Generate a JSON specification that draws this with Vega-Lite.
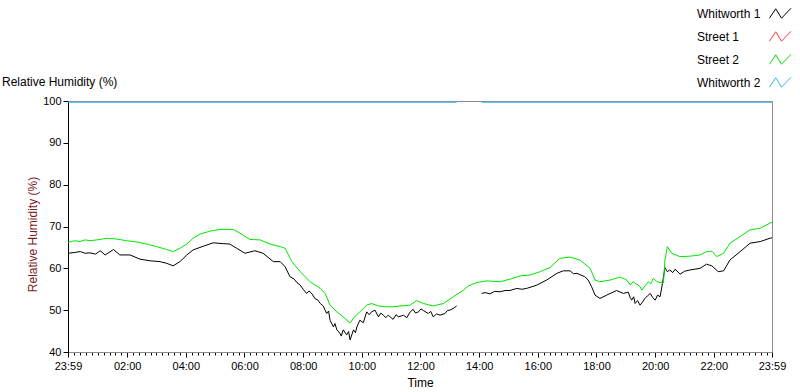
{
  "$schema": "https://vega.github.io/schema/vega-lite/v6.json",
  "autosize": {"type": "none"},
  "width": 704,
  "height": 251,
  "padding": {"left": 68, "top": 101, "right": 28, "bottom": 40},
  "background": "white",
  "title": {"text": "Relative Humidity (%)", "anchor": "start", "frame": "group", "dx": -66, "offset": -95, "fontSize": 12, "font": "Liberation Sans", "fontWeight": "normal", "color": "black", "baseline": "alphabetic"},
  "config": {
    "view": {"stroke": "#8c8c8c", "strokeWidth": 1},
    "axis": {"grid": false, "labelFont": "Liberation Sans", "labelFontSize": 11, "labelColor": "black", "titleFont": "Liberation Sans", "titleFontSize": 12, "titleFontWeight": "normal", "tickColor": "black"}
  },
  "datasets": {
    "rh": [
      {"s": "Whitworth 1", "t": -1, "v": 63.6}, {"s": "Whitworth 1", "t": 13, "v": 63.8}, {"s": "Whitworth 1", "t": 24, "v": 64.0}, {"s": "Whitworth 1", "t": 34, "v": 63.6}, {"s": "Whitworth 1", "t": 44, "v": 63.7}, {"s": "Whitworth 1", "t": 55, "v": 63.4}, {"s": "Whitworth 1", "t": 65, "v": 64.2}, {"s": "Whitworth 1", "t": 75, "v": 63.2}, {"s": "Whitworth 1", "t": 92, "v": 64.5}, {"s": "Whitworth 1", "t": 105, "v": 63.2}, {"s": "Whitworth 1", "t": 126, "v": 63.2}, {"s": "Whitworth 1", "t": 146, "v": 62.2}, {"s": "Whitworth 1", "t": 167, "v": 61.8}, {"s": "Whitworth 1", "t": 187, "v": 61.6}, {"s": "Whitworth 1", "t": 201, "v": 61.2}, {"s": "Whitworth 1", "t": 214, "v": 60.6}, {"s": "Whitworth 1", "t": 228, "v": 61.6}, {"s": "Whitworth 1", "t": 242, "v": 63.2}, {"s": "Whitworth 1", "t": 255, "v": 64.4}, {"s": "Whitworth 1", "t": 276, "v": 65.3}, {"s": "Whitworth 1", "t": 296, "v": 66.1}, {"s": "Whitworth 1", "t": 317, "v": 65.9}, {"s": "Whitworth 1", "t": 330, "v": 65.8}, {"s": "Whitworth 1", "t": 344, "v": 64.8}, {"s": "Whitworth 1", "t": 361, "v": 63.6}, {"s": "Whitworth 1", "t": 381, "v": 64.2}, {"s": "Whitworth 1", "t": 398, "v": 63.6}, {"s": "Whitworth 1", "t": 419, "v": 61.6}, {"s": "Whitworth 1", "t": 433, "v": 61.6}, {"s": "Whitworth 1", "t": 443, "v": 60.4}, {"s": "Whitworth 1", "t": 453, "v": 58.0}, {"s": "Whitworth 1", "t": 462, "v": 57.4}, {"s": "Whitworth 1", "t": 467, "v": 56.6}, {"s": "Whitworth 1", "t": 474, "v": 56.0}, {"s": "Whitworth 1", "t": 480, "v": 55.0}, {"s": "Whitworth 1", "t": 487, "v": 54.0}, {"s": "Whitworth 1", "t": 492, "v": 54.6}, {"s": "Whitworth 1", "t": 498, "v": 53.9}, {"s": "Whitworth 1", "t": 504, "v": 52.8}, {"s": "Whitworth 1", "t": 510, "v": 52.4}, {"s": "Whitworth 1", "t": 515, "v": 51.6}, {"s": "Whitworth 1", "t": 521, "v": 51.0}, {"s": "Whitworth 1", "t": 528, "v": 49.2}, {"s": "Whitworth 1", "t": 532, "v": 49.8}, {"s": "Whitworth 1", "t": 535, "v": 47.6}, {"s": "Whitworth 1", "t": 542, "v": 46.0}, {"s": "Whitworth 1", "t": 545, "v": 46.8}, {"s": "Whitworth 1", "t": 549, "v": 45.3}, {"s": "Whitworth 1", "t": 555, "v": 44.5}, {"s": "Whitworth 1", "t": 558, "v": 43.8}, {"s": "Whitworth 1", "t": 562, "v": 45.3}, {"s": "Whitworth 1", "t": 569, "v": 44.1}, {"s": "Whitworth 1", "t": 573, "v": 44.9}, {"s": "Whitworth 1", "t": 576, "v": 42.9}, {"s": "Whitworth 1", "t": 583, "v": 45.3}, {"s": "Whitworth 1", "t": 587, "v": 44.6}, {"s": "Whitworth 1", "t": 590, "v": 46.0}, {"s": "Whitworth 1", "t": 596, "v": 47.6}, {"s": "Whitworth 1", "t": 603, "v": 47.0}, {"s": "Whitworth 1", "t": 610, "v": 49.6}, {"s": "Whitworth 1", "t": 615, "v": 48.9}, {"s": "Whitworth 1", "t": 620, "v": 49.6}, {"s": "Whitworth 1", "t": 627, "v": 50.0}, {"s": "Whitworth 1", "t": 634, "v": 48.4}, {"s": "Whitworth 1", "t": 639, "v": 49.3}, {"s": "Whitworth 1", "t": 644, "v": 48.8}, {"s": "Whitworth 1", "t": 649, "v": 48.2}, {"s": "Whitworth 1", "t": 654, "v": 48.8}, {"s": "Whitworth 1", "t": 659, "v": 48.3}, {"s": "Whitworth 1", "t": 664, "v": 47.8}, {"s": "Whitworth 1", "t": 670, "v": 48.9}, {"s": "Whitworth 1", "t": 675, "v": 48.4}, {"s": "Whitworth 1", "t": 685, "v": 48.8}, {"s": "Whitworth 1", "t": 692, "v": 48.2}, {"s": "Whitworth 1", "t": 699, "v": 49.6}, {"s": "Whitworth 1", "t": 705, "v": 50.2}, {"s": "Whitworth 1", "t": 710, "v": 49.3}, {"s": "Whitworth 1", "t": 716, "v": 49.6}, {"s": "Whitworth 1", "t": 721, "v": 50.3}, {"s": "Whitworth 1", "t": 726, "v": 49.9}, {"s": "Whitworth 1", "t": 736, "v": 49.2}, {"s": "Whitworth 1", "t": 741, "v": 49.7}, {"s": "Whitworth 1", "t": 746, "v": 48.4}, {"s": "Whitworth 1", "t": 753, "v": 49.1}, {"s": "Whitworth 1", "t": 760, "v": 48.8}, {"s": "Whitworth 1", "t": 770, "v": 49.2}, {"s": "Whitworth 1", "t": 775, "v": 49.9}, {"s": "Whitworth 1", "t": 780, "v": 50.0}, {"s": "Whitworth 1", "t": 787, "v": 50.4}, {"s": "Whitworth 1", "t": 794, "v": 51.0}, {"s": "Whitworth 1", "t": 820, "v": null}, {"s": "Whitworth 1", "t": 845, "v": 54.0}, {"s": "Whitworth 1", "t": 852, "v": 54.2}, {"s": "Whitworth 1", "t": 862, "v": 53.9}, {"s": "Whitworth 1", "t": 872, "v": 54.5}, {"s": "Whitworth 1", "t": 883, "v": 54.4}, {"s": "Whitworth 1", "t": 893, "v": 54.7}, {"s": "Whitworth 1", "t": 903, "v": 54.7}, {"s": "Whitworth 1", "t": 917, "v": 55.2}, {"s": "Whitworth 1", "t": 927, "v": 55.0}, {"s": "Whitworth 1", "t": 937, "v": 55.2}, {"s": "Whitworth 1", "t": 948, "v": 55.6}, {"s": "Whitworth 1", "t": 958, "v": 56.0}, {"s": "Whitworth 1", "t": 978, "v": 57.2}, {"s": "Whitworth 1", "t": 999, "v": 58.8}, {"s": "Whitworth 1", "t": 1012, "v": 59.4}, {"s": "Whitworth 1", "t": 1026, "v": 59.4}, {"s": "Whitworth 1", "t": 1033, "v": 58.7}, {"s": "Whitworth 1", "t": 1040, "v": 58.8}, {"s": "Whitworth 1", "t": 1056, "v": 58.0}, {"s": "Whitworth 1", "t": 1063, "v": 57.2}, {"s": "Whitworth 1", "t": 1070, "v": 55.6}, {"s": "Whitworth 1", "t": 1077, "v": 53.6}, {"s": "Whitworth 1", "t": 1087, "v": 52.8}, {"s": "Whitworth 1", "t": 1101, "v": 53.6}, {"s": "Whitworth 1", "t": 1121, "v": 54.7}, {"s": "Whitworth 1", "t": 1135, "v": 54.0}, {"s": "Whitworth 1", "t": 1145, "v": 54.3}, {"s": "Whitworth 1", "t": 1149, "v": 53.0}, {"s": "Whitworth 1", "t": 1152, "v": 52.4}, {"s": "Whitworth 1", "t": 1156, "v": 53.2}, {"s": "Whitworth 1", "t": 1159, "v": 51.6}, {"s": "Whitworth 1", "t": 1164, "v": 52.3}, {"s": "Whitworth 1", "t": 1169, "v": 51.2}, {"s": "Whitworth 1", "t": 1174, "v": 51.9}, {"s": "Whitworth 1", "t": 1179, "v": 52.8}, {"s": "Whitworth 1", "t": 1184, "v": 53.4}, {"s": "Whitworth 1", "t": 1190, "v": 54.0}, {"s": "Whitworth 1", "t": 1195, "v": 53.0}, {"s": "Whitworth 1", "t": 1200, "v": 52.4}, {"s": "Whitworth 1", "t": 1205, "v": 53.6}, {"s": "Whitworth 1", "t": 1210, "v": 53.2}, {"s": "Whitworth 1", "t": 1215, "v": 56.4}, {"s": "Whitworth 1", "t": 1220, "v": 60.2}, {"s": "Whitworth 1", "t": 1225, "v": 59.2}, {"s": "Whitworth 1", "t": 1230, "v": 59.6}, {"s": "Whitworth 1", "t": 1236, "v": 59.0}, {"s": "Whitworth 1", "t": 1241, "v": 59.8}, {"s": "Whitworth 1", "t": 1251, "v": 58.6}, {"s": "Whitworth 1", "t": 1260, "v": 59.3}, {"s": "Whitworth 1", "t": 1271, "v": 59.6}, {"s": "Whitworth 1", "t": 1292, "v": 60.0}, {"s": "Whitworth 1", "t": 1305, "v": 61.0}, {"s": "Whitworth 1", "t": 1316, "v": 60.6}, {"s": "Whitworth 1", "t": 1329, "v": 59.2}, {"s": "Whitworth 1", "t": 1340, "v": 59.4}, {"s": "Whitworth 1", "t": 1353, "v": 62.0}, {"s": "Whitworth 1", "t": 1374, "v": 64.0}, {"s": "Whitworth 1", "t": 1394, "v": 66.0}, {"s": "Whitworth 1", "t": 1415, "v": 66.4}, {"s": "Whitworth 1", "t": 1435, "v": 67.2}, {"s": "Whitworth 1", "t": 1439, "v": 67.3},
      {"s": "Street 2", "t": -1, "v": 66.2}, {"s": "Street 2", "t": 13, "v": 66.6}, {"s": "Street 2", "t": 24, "v": 66.4}, {"s": "Street 2", "t": 34, "v": 66.8}, {"s": "Street 2", "t": 44, "v": 66.6}, {"s": "Street 2", "t": 65, "v": 66.9}, {"s": "Street 2", "t": 78, "v": 67.2}, {"s": "Street 2", "t": 99, "v": 67.0}, {"s": "Street 2", "t": 119, "v": 66.6}, {"s": "Street 2", "t": 140, "v": 66.3}, {"s": "Street 2", "t": 160, "v": 65.8}, {"s": "Street 2", "t": 180, "v": 65.2}, {"s": "Street 2", "t": 201, "v": 64.5}, {"s": "Street 2", "t": 214, "v": 64.0}, {"s": "Street 2", "t": 228, "v": 64.8}, {"s": "Street 2", "t": 242, "v": 65.8}, {"s": "Street 2", "t": 255, "v": 67.2}, {"s": "Street 2", "t": 269, "v": 68.2}, {"s": "Street 2", "t": 290, "v": 68.9}, {"s": "Street 2", "t": 310, "v": 69.3}, {"s": "Street 2", "t": 337, "v": 69.3}, {"s": "Street 2", "t": 351, "v": 68.4}, {"s": "Street 2", "t": 371, "v": 66.9}, {"s": "Street 2", "t": 392, "v": 66.8}, {"s": "Street 2", "t": 412, "v": 65.8}, {"s": "Street 2", "t": 433, "v": 65.2}, {"s": "Street 2", "t": 443, "v": 64.8}, {"s": "Street 2", "t": 450, "v": 63.2}, {"s": "Street 2", "t": 457, "v": 61.6}, {"s": "Street 2", "t": 474, "v": 59.2}, {"s": "Street 2", "t": 494, "v": 56.8}, {"s": "Street 2", "t": 515, "v": 55.2}, {"s": "Street 2", "t": 525, "v": 54.0}, {"s": "Street 2", "t": 535, "v": 51.2}, {"s": "Street 2", "t": 549, "v": 49.6}, {"s": "Street 2", "t": 562, "v": 48.4}, {"s": "Street 2", "t": 576, "v": 46.9}, {"s": "Street 2", "t": 585, "v": 48.4}, {"s": "Street 2", "t": 596, "v": 49.6}, {"s": "Street 2", "t": 610, "v": 51.2}, {"s": "Street 2", "t": 620, "v": 51.6}, {"s": "Street 2", "t": 634, "v": 51.0}, {"s": "Street 2", "t": 651, "v": 50.8}, {"s": "Street 2", "t": 664, "v": 50.8}, {"s": "Street 2", "t": 678, "v": 51.0}, {"s": "Street 2", "t": 699, "v": 51.2}, {"s": "Street 2", "t": 712, "v": 52.3}, {"s": "Street 2", "t": 726, "v": 51.6}, {"s": "Street 2", "t": 746, "v": 51.0}, {"s": "Street 2", "t": 767, "v": 51.6}, {"s": "Street 2", "t": 787, "v": 53.2}, {"s": "Street 2", "t": 808, "v": 54.8}, {"s": "Street 2", "t": 818, "v": 55.8}, {"s": "Street 2", "t": 835, "v": 56.6}, {"s": "Street 2", "t": 855, "v": 57.0}, {"s": "Street 2", "t": 883, "v": 56.8}, {"s": "Street 2", "t": 903, "v": 57.4}, {"s": "Street 2", "t": 924, "v": 58.2}, {"s": "Street 2", "t": 944, "v": 58.4}, {"s": "Street 2", "t": 965, "v": 59.2}, {"s": "Street 2", "t": 985, "v": 60.2}, {"s": "Street 2", "t": 1005, "v": 62.4}, {"s": "Street 2", "t": 1026, "v": 62.7}, {"s": "Street 2", "t": 1046, "v": 62.0}, {"s": "Street 2", "t": 1067, "v": 60.0}, {"s": "Street 2", "t": 1077, "v": 57.2}, {"s": "Street 2", "t": 1087, "v": 56.8}, {"s": "Street 2", "t": 1108, "v": 57.2}, {"s": "Street 2", "t": 1128, "v": 57.9}, {"s": "Street 2", "t": 1135, "v": 57.6}, {"s": "Street 2", "t": 1142, "v": 57.2}, {"s": "Street 2", "t": 1149, "v": 56.0}, {"s": "Street 2", "t": 1155, "v": 56.8}, {"s": "Street 2", "t": 1162, "v": 56.2}, {"s": "Street 2", "t": 1168, "v": 55.8}, {"s": "Street 2", "t": 1173, "v": 54.8}, {"s": "Street 2", "t": 1180, "v": 55.9}, {"s": "Street 2", "t": 1186, "v": 56.8}, {"s": "Street 2", "t": 1191, "v": 56.3}, {"s": "Street 2", "t": 1196, "v": 57.6}, {"s": "Street 2", "t": 1203, "v": 56.9}, {"s": "Street 2", "t": 1210, "v": 56.6}, {"s": "Street 2", "t": 1217, "v": 56.5}, {"s": "Street 2", "t": 1220, "v": 62.0}, {"s": "Street 2", "t": 1225, "v": 65.2}, {"s": "Street 2", "t": 1234, "v": 63.6}, {"s": "Street 2", "t": 1251, "v": 62.8}, {"s": "Street 2", "t": 1271, "v": 62.9}, {"s": "Street 2", "t": 1292, "v": 63.2}, {"s": "Street 2", "t": 1305, "v": 64.0}, {"s": "Street 2", "t": 1316, "v": 64.1}, {"s": "Street 2", "t": 1326, "v": 62.8}, {"s": "Street 2", "t": 1340, "v": 63.6}, {"s": "Street 2", "t": 1353, "v": 66.0}, {"s": "Street 2", "t": 1374, "v": 67.6}, {"s": "Street 2", "t": 1394, "v": 69.2}, {"s": "Street 2", "t": 1415, "v": 69.6}, {"s": "Street 2", "t": 1435, "v": 70.8}, {"s": "Street 2", "t": 1439, "v": 71.0},
      {"s": "Whitworth 2", "t": -1, "v": 99.7}, {"s": "Whitworth 2", "t": 794, "v": 99.7}, {"s": "Whitworth 2", "t": 820, "v": null}, {"s": "Whitworth 2", "t": 845, "v": 99.7}, {"s": "Whitworth 2", "t": 1439, "v": 99.7}
    ]
  },
  "layer": [
    {
      "mark": {"type": "rule", "color": "black", "strokeWidth": 1},
      "encoding": {"y": {"datum": 100, "type": "quantitative"}}
    },
    {
      "data": {"name": "rh"},
      "mark": {"type": "line", "strokeWidth": 1, "invalid": "break-paths-show-domains", "interpolate": "linear"},
      "encoding": {
        "x": {
          "field": "t", "type": "quantitative",
          "scale": {"domain": [-1, 1439], "nice": false, "zero": false},
          "axis": {
            "title": "Time", "titleColor": "black", "titlePadding": 6,
            "domainColor": "#8c8c8c",
            "values": [-1,0,12,24,36,48,60,72,84,96,108,120,132,144,156,168,180,192,204,216,228,240,252,264,276,288,300,312,324,336,348,360,372,384,396,408,420,432,444,456,468,480,492,504,516,528,540,552,564,576,588,600,612,624,636,648,660,672,684,696,708,720,732,744,756,768,780,792,804,816,828,840,852,864,876,888,900,912,924,936,948,960,972,984,996,1008,1020,1032,1044,1056,1068,1080,1092,1104,1116,1128,1140,1152,1164,1176,1188,1200,1212,1224,1236,1248,1260,1272,1284,1296,1308,1320,1332,1344,1356,1368,1380,1392,1404,1416,1428,1439],
            "labelExpr": "datum.value == -1 || datum.value == 1439 ? '23:59' : (datum.value > 0 && datum.value % 120 == 0 ? (datum.value < 600 ? '0' : '') + (datum.value / 60) + ':00' : '')",
            "labelOverlap": false, "labelFlush": false, "labelPadding": 3,
            "tickSize": {"condition": {"test": "(datum.value > 0 && datum.value % 120 == 0) || datum.value == -1 || datum.value == 1439", "value": 5}, "value": 3}
          }
        },
        "y": {
          "field": "v", "type": "quantitative",
          "scale": {"domain": [40, 100], "nice": false, "zero": false},
          "axis": {
            "title": "Relative Humidity (%)", "titleColor": "#7b1c1c", "titlePadding": 3, "titleY": 133,
            "values": [40,45,50,55,60,65,70,75,80,85,90,95,100],
            "tickSize": 5, "labelPadding": 2, "domainColor": "black"
          }
        },
        "color": {
          "field": "s", "type": "nominal",
          "scale": {"domain": ["Whitworth 1", "Street 1", "Street 2", "Whitworth 2"], "range": ["#000000", "#ff3b3b", "#00e600", "#33b5ef"]},
          "legend": {
            "orient": "none", "legendX": 702, "legendY": -98.5, "title": null,
            "symbolType": "M-1.1,0.45L-0.5,-0.45L0.05,0.45L0.95,-0.5",
            "symbolSize": 441, "symbolStrokeWidth": 1, "symbolFillColor": "transparent",
            "labelOffset": -95, "labelFont": "Liberation Sans", "labelFontSize": 12, "labelColor": "black",
            "rowPadding": 5, "padding": 0
          }
        }
      }
    }
  ]
}
